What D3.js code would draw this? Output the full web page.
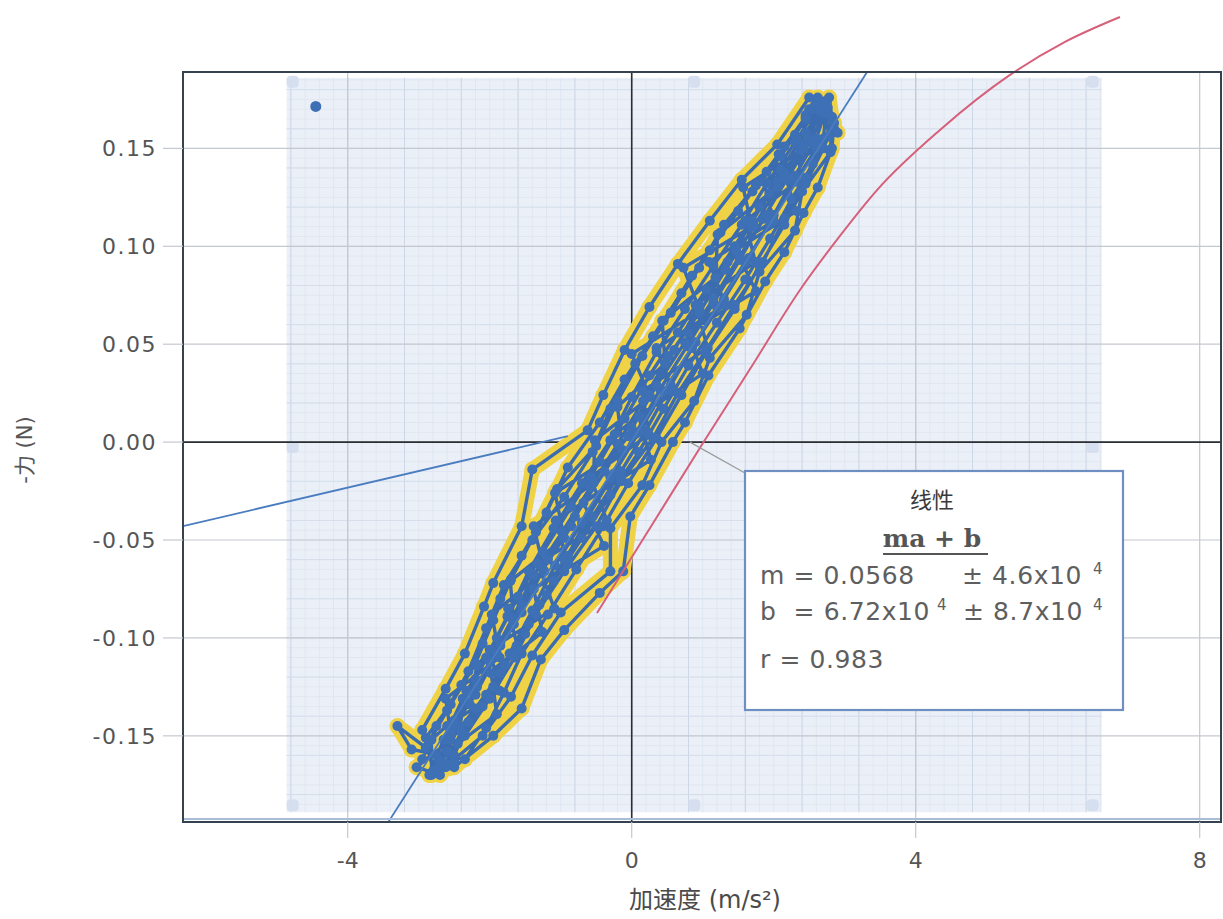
<!DOCTYPE html>
<html>
<head>
<meta charset="utf-8">
<script src="https://cdn.jsdelivr.net/npm/d3@7"></script>
<style>
  body { margin: 0; background: #fff; }
  svg { display: block; }
</style>
</head>
<body>
<div id="chart"></div>
<script>
// axis setup
var xTicks = [-4, 0, 4, 8];
var yTicks = [-0.15, -0.10, -0.05, 0.00, 0.05, 0.10, 0.15];
var yTickLabels = ["-0.15", "-0.10", "-0.05", "0.00", "0.05", "0.10", "0.15"];
var xDomain = [-6.32, 8.30];
var yDomain = [-0.194, 0.189];

// selected region (blue panel)
var panelA = [-4.86, 6.62];
var panelF = [-0.189, 0.186];

// measured run: acceleration (m/s^2) and -force (N), one pass per line
var accel = [
  -2.78, -2.90, -2.55, -2.20, -1.95, -1.70, -1.35, -1.05, -0.50, -0.20, 0.15, 0.55, 0.95, 1.30, 1.75, 2.15, 2.55,
  2.75, 2.70, 2.45, 2.15, 1.85, 1.45, 1.05, 0.65, 0.30, -0.15, -0.50, -0.95, -1.35, -1.65, -2.00, -2.35, -2.62,
  -2.70, -2.55, -2.20, -1.90, -1.55, -1.25, -0.85, -0.55, -0.05, 0.25, 0.60, 0.95, 1.35, 1.70, 2.05, 2.40, 2.68,
  2.50, 2.05, 1.55, 1.10, 0.65, 0.25, -0.10, -0.40, -0.62, -1.40, -1.55, -1.95, -2.08, -2.35, -2.62, -2.95, -2.78,
  -2.50, -1.95, -1.55, -1.28, -0.95, -0.45, -0.12, -0.02, 0.25, 0.58, 0.75, 1.08, 1.52, 1.88, 2.15, 2.42, 2.62, 2.82, 2.85, 2.72,
  2.62, 2.30, 1.90, 1.55, 1.15, 0.75, 0.35, 0.00, -0.30, -0.70, -1.10, -1.45, -1.75, -2.05, -2.38, -2.65, -2.85,
  -2.50, -2.30, -1.95, -1.62, -1.30, -0.95, -0.55, -0.15, 0.20, 0.55, 0.90, 1.30, 1.65, 2.00, 2.30, 2.60, 2.72,
  2.45, 2.10, 1.70, 1.25, 0.85, 0.45, 0.05, -0.30, -0.55, -0.95, -1.40, -1.80, -2.05, -2.30, -2.60, -2.90, -3.30,
  -3.10, -2.35, -2.05, -1.80, -1.55, -1.18, -0.78, -0.40, -0.05, 0.35, 0.70, 1.05, 1.45, 1.80, 2.15, 2.45, 2.70, 2.82,
  2.78, 2.45, 2.10, 1.80, 1.45, 1.05, 0.65, 0.25, -0.10, -0.45, -0.85, -1.25, -1.60, -1.90, -2.20, -2.50, -2.75,
  -2.95, -2.75, -2.40, -2.10, -1.85, -1.55, -1.20, -0.90, -0.45, -0.10, 0.30, 0.70, 1.10, 1.50, 1.90, 2.30, 2.62,
  2.85, 2.55, 2.25, 1.95, 1.60, 1.20, 0.80, 0.45, 0.10, -0.30, -0.70, -1.10, -1.45, -1.78, -2.10, -2.45, -2.70,
  -3.03, -2.55, -2.20, -1.85, -1.50, -1.20, -0.90, -0.60, -0.25, 0.10, 0.45, 0.85, 1.20, 1.60, 1.95, 2.30, 2.60, 2.90,
  2.70, 2.42, 2.33, 1.60, 1.74, 0.90, 1.07, 0.15, 0.24, -0.58, -0.35, -1.32, -1.09, -2.00, -1.86, -2.60, -2.50,
  -2.70, -2.42, -2.33, -1.60, -1.74, -0.90, -1.07, -0.15, -0.24, 0.58, 0.35, 1.32, 1.09, 2.00, 1.86, 2.60, 2.50,
  2.70, 2.78, 2.15, 2.32, 1.47, 1.75, 0.78, 1.00, 0.10, 0.27, -0.68, -0.39, -1.38, -1.26, -1.98, -1.90, -2.60,
  -2.75, -2.55, -2.62, -1.86, -1.97, -1.23, -1.38, -0.54, -0.52, 0.26, 0.00, 0.96, 0.73, 1.69, 1.57, 2.38, 2.45,
  2.66, 2.42, 2.05, 1.72, 1.32, 0.95, 0.52, 0.16, -0.20, -0.58, -0.98, -1.38, -1.68, -2.00, -2.30, -2.58, -2.80,
  -2.62, -2.40, -2.05, -1.72, -1.40, -1.08, -0.70, -0.30, 0.05, 0.40, 0.78, 1.15, 1.52, 1.85, 2.18, 2.50, 2.76,
  2.82, 2.80, 2.40, 2.30, 1.80, 1.62, 1.10, 0.88, 0.42, 0.15, -0.30, -0.30, -1.00, -1.40, -1.70, -2.10, -2.60,
  -2.82, -2.82, -2.28, -2.18, -1.66, -1.71, -0.95, -1.08, -0.13, -0.20, 0.47, 0.43, 1.18, 1.21, 1.94, 2.07, 2.45,
  2.58, 2.48, 2.15, 1.90, 1.52, 1.15, 0.75, 0.35, 0.00, -0.38, -0.80, -1.18, -1.55, -1.85, -2.18, -2.48, -2.68
];
var force = [
  -0.168, -0.151, -0.134, -0.113, -0.091, -0.070, -0.046, -0.024, -0.002, 0.021, 0.044, 0.066, 0.089, 0.111, 0.131, 0.151, 0.170,
  0.174, 0.155, 0.135, 0.114, 0.092, 0.070, 0.047, 0.025, 0.002, -0.020, -0.043, -0.066, -0.088, -0.110, -0.131, -0.150, -0.166,
  -0.164, -0.147, -0.129, -0.108, -0.087, -0.065, -0.043, -0.020, 0.003, 0.024, 0.047, 0.070, 0.092, 0.113, 0.133, 0.152, 0.172,
  0.176, 0.152, 0.134, 0.113, 0.091, 0.069, 0.047, 0.024, 0.006, -0.014, -0.043, -0.072, -0.084, -0.108, -0.126, -0.147, -0.169,
  -0.166, -0.150, -0.136, -0.111, -0.096, -0.077, -0.066, -0.038, -0.022, 0.000, 0.010, 0.034, 0.058, 0.082, 0.097, 0.117, 0.130, 0.150, 0.163, 0.174,
  0.171, 0.153, 0.132, 0.111, 0.090, 0.068, 0.046, 0.023, 0.001, -0.021, -0.044, -0.066, -0.089, -0.110, -0.131, -0.152, -0.170,
  -0.160, -0.143, -0.125, -0.104, -0.083, -0.060, -0.038, -0.015, 0.006, 0.029, 0.051, 0.073, 0.094, 0.116, 0.136, 0.155, 0.168,
  0.165, 0.146, 0.128, 0.107, 0.085, 0.062, 0.040, 0.017, -0.005, -0.028, -0.050, -0.073, -0.095, -0.117, -0.137, -0.156, -0.145,
  -0.157, -0.162, -0.146, -0.128, -0.108, -0.088, -0.065, -0.043, -0.021, 0.002, 0.024, 0.046, 0.068, 0.090, 0.111, 0.132, 0.150, 0.166,
  0.176, 0.158, 0.139, 0.120, 0.100, 0.078, 0.056, 0.034, 0.012, -0.010, -0.033, -0.056, -0.079, -0.100, -0.121, -0.142, -0.160,
  -0.162, -0.145, -0.124, -0.103, -0.080, -0.058, -0.036, -0.013, 0.010, 0.032, 0.054, 0.076, 0.098, 0.118, 0.138, 0.157, 0.176,
  0.160, 0.142, 0.124, 0.104, 0.083, 0.061, 0.039, 0.017, -0.005, -0.027, -0.049, -0.071, -0.093, -0.114, -0.135, -0.154, -0.170,
  -0.166, -0.152, -0.136, -0.118, -0.098, -0.078, -0.058, -0.037, -0.016, 0.005, 0.026, 0.048, 0.069, 0.092, 0.112, 0.133, 0.150, 0.158,
  0.170, 0.152, 0.133, 0.113, 0.092, 0.070, 0.048, 0.026, 0.004, -0.018, -0.040, -0.062, -0.085, -0.106, -0.127, -0.145, -0.163,
  -0.163, -0.145, -0.127, -0.106, -0.085, -0.062, -0.040, -0.018, 0.004, 0.026, 0.048, 0.070, 0.092, 0.113, 0.133, 0.152, 0.170,
  0.173, 0.156, 0.137, 0.118, 0.098, 0.077, 0.056, 0.035, 0.013, -0.009, -0.031, -0.053, -0.075, -0.097, -0.118, -0.139, -0.158,
  -0.167, -0.149, -0.131, -0.110, -0.088, -0.066, -0.043, -0.021, 0.001, 0.023, 0.045, 0.067, 0.089, 0.110, 0.130, 0.149, 0.167,
  0.169, 0.150, 0.130, 0.110, 0.088, 0.066, 0.044, 0.021, -0.001, -0.023, -0.046, -0.068, -0.090, -0.112, -0.133, -0.152, -0.168,
  -0.164, -0.148, -0.129, -0.108, -0.086, -0.063, -0.041, -0.018, 0.004, 0.027, 0.049, 0.071, 0.093, 0.114, 0.134, 0.153, 0.171,
  0.166, 0.148, 0.128, 0.108, 0.087, 0.065, 0.043, 0.021, 0.000, -0.022, -0.044, -0.066, -0.087, -0.109, -0.130, -0.150, -0.165,
  -0.170, -0.152, -0.134, -0.114, -0.093, -0.071, -0.049, -0.026, -0.004, 0.018, 0.040, 0.062, 0.084, 0.106, 0.127, 0.147, 0.166,
  0.172, 0.155, 0.136, 0.116, 0.095, 0.073, 0.051, 0.029, 0.007, -0.015, -0.038, -0.060, -0.083, -0.104, -0.125, -0.145, -0.163
];

// linear fit  F = m a + b
var fitM = 0.0568, fitB = 0.000672;

// second (shallow) blue line
var sideA = [-6.32, -0.90];
var sideF = [-0.0429, 0.003];

// red model curve
var curveA = [-0.489, 0.258, 1.004, 1.666, 2.370, 2.933, 3.455, 4.342, 5.328, 6.103, 6.877];
var curveF = [-0.0873, -0.0439, -0.0005, 0.0373, 0.0777, 0.1053, 0.1287, 0.1594, 0.1875, 0.2044, 0.2171];

// lone marker in the corner
var markerA = [-4.45];
var markerF = [0.1714];

// fit box text
var fitTitle = "线性";
var fitEq = "ma + b";
var leaderA = 0.82, leaderF = 0.0;

var width = 1223, height = 919;
var margin = { top: 72, right: 2, bottom: 97, left: 183 };

var svg = d3.select("#chart")
  .append("svg")
  .attr("width", width)
  .attr("height", height);

var x = d3.scaleLinear().domain(xDomain).range([margin.left, width - margin.right]);
var y = d3.scaleLinear().domain(yDomain).range([height - margin.bottom, margin.top]);

var x0 = x.range()[0], x1 = x.range()[1];
var yTop = y.range()[1], yBot = y.range()[0];

var font = "'DejaVu Sans', 'Noto Sans CJK SC', sans-serif";

svg.append("defs").append("clipPath").attr("id", "plotclip")
  .append("rect")
  .attr("x", x0).attr("y", yTop)
  .attr("width", x1 - x0).attr("height", yBot - yTop);

// blue selection panel with fine grid
var px0 = x(panelA[0]), px1 = x(panelA[1]);
var py0 = y(panelF[1]), py1 = y(panelF[0]);
svg.append("rect")
  .attr("x", px0).attr("y", py0)
  .attr("width", px1 - px0).attr("height", py1 - py0)
  .attr("fill", "#ebf0f8");

var fine = svg.append("g");
fine.selectAll(".vf")
  .data(d3.range(-4.8, 6.61, 0.2))
  .enter().append("line")
  .attr("x1", function (d) { return x(d); }).attr("x2", function (d) { return x(d); })
  .attr("y1", py0).attr("y2", py1)
  .attr("stroke", "#e0e7f1").attr("stroke-width", 1);
fine.selectAll(".hf")
  .data(d3.range(-0.185, 0.186, 0.005))
  .enter().append("line")
  .attr("x1", px0).attr("x2", px1)
  .attr("y1", function (d) { return y(d); }).attr("y2", function (d) { return y(d); })
  .attr("stroke", "#e0e7f1").attr("stroke-width", 1);
fine.selectAll(".vm")
  .data(d3.range(-4.8, 6.61, 0.8))
  .enter().append("line")
  .attr("x1", function (d) { return x(d); }).attr("x2", function (d) { return x(d); })
  .attr("y1", py0).attr("y2", py1)
  .attr("stroke", "#cdd7e5").attr("stroke-width", 1);
fine.selectAll(".hm")
  .data(d3.range(-0.18, 0.181, 0.02))
  .enter().append("line")
  .attr("x1", px0).attr("x2", px1)
  .attr("y1", function (d) { return y(d); }).attr("y2", function (d) { return y(d); })
  .attr("stroke", "#d5deeb").attr("stroke-width", 1);

// major grid
svg.append("g").selectAll("line")
  .data(yTicks)
  .enter().append("line")
  .attr("x1", x0).attr("x2", x1)
  .attr("y1", function (d) { return y(d); }).attr("y2", function (d) { return y(d); })
  .attr("stroke", "#c4c8cf").attr("stroke-width", 1.2);
svg.append("g").selectAll("line")
  .data(xTicks)
  .enter().append("line")
  .attr("x1", function (d) { return x(d); }).attr("x2", function (d) { return x(d); })
  .attr("y1", yTop).attr("y2", yBot)
  .attr("stroke", "#c4c8cf").attr("stroke-width", 1.2);

// panel handles
var hx = [px0 + 6, (px0 + px1) / 2, px1 - 9];
var hy = [py0 + 4, (py0 + py1) / 2 + 2, py1 - 7];
var handles = [];
hx.forEach(function (a, i) {
  hy.forEach(function (b, j) {
    if (!(i === 1 && j === 1)) handles.push([a, b]);
  });
});
svg.append("g").selectAll("rect")
  .data(handles)
  .enter().append("rect")
  .attr("x", function (d) { return d[0] - 6; })
  .attr("y", function (d) { return d[1] - 6; })
  .attr("width", 12).attr("height", 12).attr("rx", 4)
  .attr("fill", "#d3dded").attr("opacity", 0.9);

// zero axes
svg.append("line")
  .attr("x1", x0).attr("x2", x1)
  .attr("y1", y(0)).attr("y2", y(0))
  .attr("stroke", "#2b2f33").attr("stroke-width", 1.6);
svg.append("line")
  .attr("x1", x(0)).attr("x2", x(0))
  .attr("y1", yTop).attr("y2", yBot)
  .attr("stroke", "#2b2f33").attr("stroke-width", 1.6);

// data
var pts = accel.map(function (a, i) { return [a, force[i]]; });
var line = d3.line()
  .x(function (d) { return x(d[0]); })
  .y(function (d) { return y(d[1]); });

var plot = svg.append("g").attr("clip-path", "url(#plotclip)");

plot.append("path")
  .datum(pts)
  .attr("d", line)
  .attr("fill", "none")
  .attr("stroke", "#efd246")
  .attr("stroke-width", 15)
  .attr("stroke-linejoin", "round")
  .attr("stroke-linecap", "round");
plot.selectAll(".hl")
  .data(pts)
  .enter().append("circle")
  .attr("cx", function (d) { return x(d[0]); })
  .attr("cy", function (d) { return y(d[1]); })
  .attr("r", 8)
  .attr("fill", "#efd246");

plot.append("path")
  .datum(pts)
  .attr("d", line)
  .attr("fill", "none")
  .attr("stroke", "#3b6cb0")
  .attr("stroke-width", 3.4)
  .attr("stroke-linejoin", "round");
plot.selectAll(".pt")
  .data(pts)
  .enter().append("circle")
  .attr("cx", function (d) { return x(d[0]); })
  .attr("cy", function (d) { return y(d[1]); })
  .attr("r", 5)
  .attr("fill", "#3e70b6");

// fit line and side line
plot.append("line")
  .attr("x1", x(xDomain[0])).attr("y1", y(fitM * xDomain[0] + fitB))
  .attr("x2", x(xDomain[1])).attr("y2", y(fitM * xDomain[1] + fitB))
  .attr("stroke", "#4a7cc0").attr("stroke-width", 1.8);
plot.append("line")
  .attr("x1", x(sideA[0])).attr("y1", y(sideF[0]))
  .attr("x2", x(sideA[1])).attr("y2", y(sideF[1]))
  .attr("stroke", "#4a7cc0").attr("stroke-width", 1.8);

// corner marker
svg.selectAll(".mk")
  .data(markerA)
  .enter().append("circle")
  .attr("cx", function (d) { return x(d); })
  .attr("cy", function (d, i) { return y(markerF[i]); })
  .attr("r", 5.5)
  .attr("fill", "#3e70b6");

// red curve (runs past the top of the frame)
var curvePts = curveA.map(function (a, i) { return [a, curveF[i]]; });
svg.append("path")
  .datum(curvePts)
  .attr("d", d3.line().curve(d3.curveMonotoneX)
    .x(function (d) { return x(d[0]); })
    .y(function (d) { return y(d[1]); }))
  .attr("fill", "none")
  .attr("stroke", "#d6607a")
  .attr("stroke-width", 2);

// frame
svg.append("line")
  .attr("x1", x0).attr("x2", x1).attr("y1", yBot - 3).attr("y2", yBot - 3)
  .attr("stroke", "#aabdd8").attr("stroke-width", 2);
svg.append("rect")
  .attr("x", x0).attr("y", yTop)
  .attr("width", x1 - x0).attr("height", yBot - yTop)
  .attr("fill", "none")
  .attr("stroke", "#34434f").attr("stroke-width", 2);

// ticks
svg.append("g").selectAll("line")
  .data(yTicks)
  .enter().append("line")
  .attr("x1", x0 - 20).attr("x2", x0)
  .attr("y1", function (d) { return y(d); }).attr("y2", function (d) { return y(d); })
  .attr("stroke", "#c4c8cf").attr("stroke-width", 1.2);
svg.append("g").selectAll("line")
  .data(xTicks)
  .enter().append("line")
  .attr("x1", function (d) { return x(d); }).attr("x2", function (d) { return x(d); })
  .attr("y1", yBot).attr("y2", yBot + 16)
  .attr("stroke", "#c4c8cf").attr("stroke-width", 1.2);

svg.append("g").selectAll("text")
  .data(yTicks)
  .enter().append("text")
  .attr("x", 157)
  .attr("y", function (d) { return y(d) + 8; })
  .attr("text-anchor", "end")
  .attr("font-family", font)
  .attr("font-size", 22)
  .attr("letter-spacing", 1.5)
  .attr("fill", "#555")
  .text(function (d, i) { return yTickLabels[i]; });

svg.append("g").selectAll("text")
  .data(xTicks)
  .enter().append("text")
  .attr("x", function (d) { return x(d); })
  .attr("y", yBot + 46)
  .attr("text-anchor", "middle")
  .attr("font-family", font)
  .attr("font-size", 22)
  .attr("fill", "#555")
  .text(function (d) { return d; });

// axis titles
svg.append("text")
  .attr("transform", "translate(32,450) rotate(-90)")
  .attr("text-anchor", "middle")
  .attr("font-family", font)
  .attr("font-size", 21)
  .attr("fill", "#555")
  .text("-力 (N)");
svg.append("text")
  .attr("x", 705).attr("y", 908)
  .attr("text-anchor", "middle")
  .attr("font-family", font)
  .attr("font-size", 24)
  .attr("fill", "#4a4a4a")
  .text("加速度 (m/s²)");

// fit box
var bx = 745, by = 471, bw = 378, bh = 239;
svg.append("line")
  .attr("x1", x(leaderA)).attr("y1", y(leaderF))
  .attr("x2", bx).attr("y2", by + 2)
  .attr("stroke", "#9a9a9a").attr("stroke-width", 1.2);
svg.append("rect")
  .attr("x", bx).attr("y", by).attr("width", bw).attr("height", bh)
  .attr("fill", "#fff")
  .attr("stroke", "#6d8fc2").attr("stroke-width", 2.2);

var box = svg.append("g").attr("font-family", font).attr("fill", "#5e5e5e");
box.append("text")
  .attr("x", bx + 187).attr("y", by + 37)
  .attr("text-anchor", "middle")
  .attr("font-size", 22).attr("fill", "#3a3a3a")
  .text(fitTitle);
box.append("text")
  .attr("x", bx + 187).attr("y", by + 76)
  .attr("text-anchor", "middle")
  .attr("font-family", "'DejaVu Serif', serif")
  .attr("font-weight", "bold")
  .attr("font-size", 25).attr("fill", "#555")
  .text(fitEq);
box.append("line")
  .attr("x1", bx + 138).attr("x2", bx + 243)
  .attr("y1", by + 83).attr("y2", by + 83)
  .attr("stroke", "#555").attr("stroke-width", 2);

function row(parts, yy) {
  parts.forEach(function (p) {
    box.append("text")
      .attr("x", bx + p[0]).attr("y", by + yy + (p[2] ? -10 : 0))
      .attr("font-size", p[2] ? 15 : 25)
      .attr("letter-spacing", p[2] ? 0 : 0.6)
      .attr("xml:space", "preserve")
      .style("white-space", "pre")
      .text(p[1]);
  });
}
row([[15, "m = 0.0568"], [217, "± 4.6x10"], [348, "4", true]], 113);
row([[15, "b  = 6.72x10"], [192, "4", true], [218, "± 8.7x10"], [348, "4", true]], 149);
row([[15, "r = 0.983"]], 197);
</script>
</body>
</html>
